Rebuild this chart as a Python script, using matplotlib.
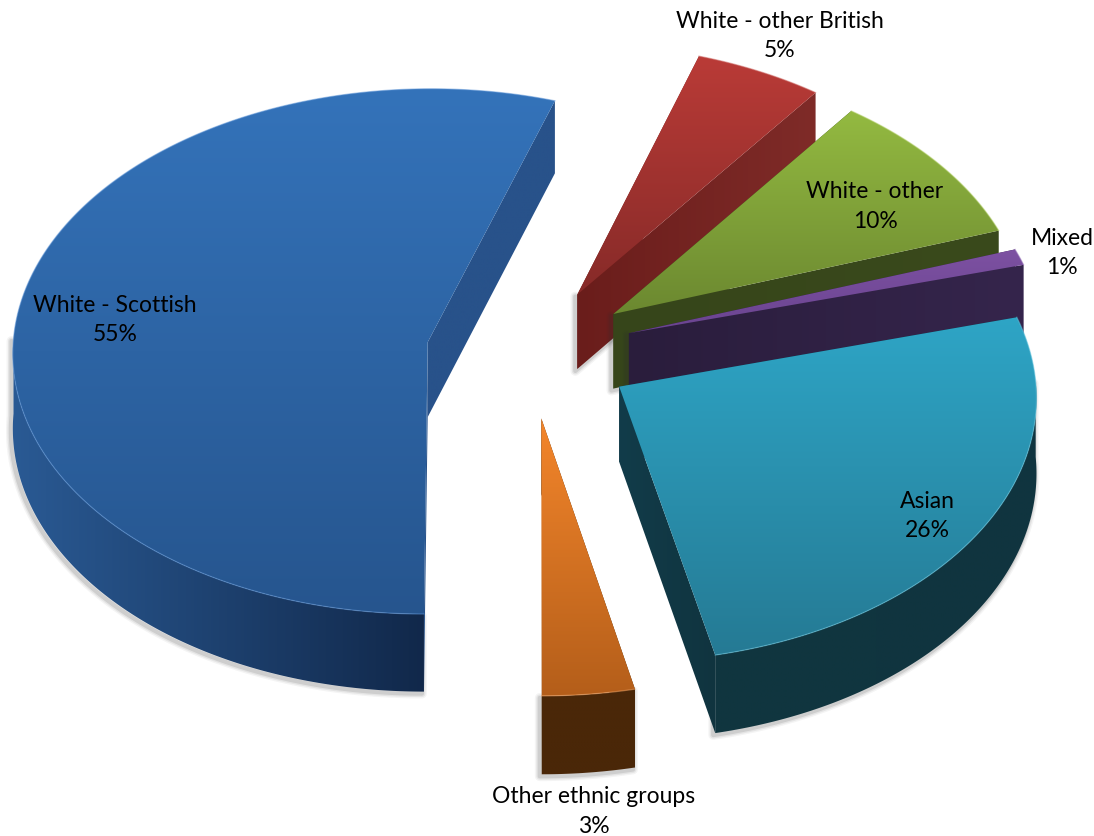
import numpy as np
import matplotlib
matplotlib.use("Agg")
import matplotlib.pyplot as plt
from matplotlib.colors import LinearSegmentedColormap
from matplotlib.patches import Polygon

labels = ["White - Scottish", "White - other British", "White - other", "Mixed", "Asian", "Other ethnic groups"]
values = [55.0, 5.2, 9.55, 1.0, 25.8, 3.45]

# styles, same order as values
top_hi = ["#3473ba", "#ba3b37", "#94ba41", "#7d51a2", "#2ea5c6", "#f4862b"]
top_lo = ["#26558e", "#862a28", "#6b8830", "#6a4490", "#257a94", "#b45e1a"]
wall_l = ["#2a5a94", "#6c1f1d", "#36451a", "#2d1f3f", "#10363f", "#4a2708"]
wall_r = ["#11284a", "#6c1f1d", "#36451a", "#2d1f3f", "#10343f", "#4a2708"]
cut_l = ["#28528a", "#6a1d1b", "#36451a", "#2a1d3c", "#123c4a", "#4a2708"]
cut_r = ["#28528a", "#7f2b28", "#3a4a1c", "#35254c", "#10343f", "#4a2708"]
rim = ["#5b93d6", "#cf6a66", "#b4d06a", "#9b78bd", "#62c4de", "#f7a868"]
label_xy = [(115, 320), (780, 36), (875, 206.5), (1062, 253), (927, 516), (594, 811.5)]

START = 180.0
EXPLODE = 0.25
CX, CY = 530, 352.5
AX, AY = 415, 263
PERSP = 0.035
DEPTH = 75


def project(u, v):
    w = 1 / (1 + PERSP * v)
    return CX + AX * u * w, CY - AY * v * w, w


def top_face(a0, a1):
    # wedge outline: apex then outer arc, angles clockwise from north
    mid = np.radians((a0 + a1) / 2)
    du, dv = EXPLODE * np.sin(mid), EXPLODE * np.cos(mid)
    ang = np.linspace(a0, a1, max(int(a1 - a0) * 2, 6))
    x, y, w = project(du + np.sin(np.radians(ang)), dv + np.cos(np.radians(ang)))
    ax_, ay_, aw = project(np.array([du]), np.array([dv]))
    return (ax_[0], ay_[0], aw[0]), ang, x, y, w


def gradient_fill(pts, c0, c1, z, vertical=False):
    # polygon painted with a linear gradient, image clipped to the polygon
    pts = np.array(pts)
    patch = Polygon(pts, closed=True, fc="none", ec="none", zorder=z)
    ax.add_patch(patch)
    cmap = LinearSegmentedColormap.from_list("g", [c0, c1])
    ramp = np.linspace(0, 1, 256)
    ramp = ramp.reshape(-1, 1) if vertical else ramp.reshape(1, -1)
    im = ax.imshow(ramp, cmap=cmap, aspect="auto", interpolation="bilinear", zorder=z,
                   extent=[pts[:, 0].min() - 1, pts[:, 0].max() + 1, pts[:, 1].max() + 1, pts[:, 1].min() - 1])
    im.set_clip_path(patch)


fig = plt.figure(figsize=(10.94, 8.36), dpi=100)
ax = fig.add_axes([0, 0, 1, 1])
ax.axis("off")
plt.rcParams["font.family"] = ["Lato", "DejaVu Sans"]

edges = START + np.cumsum([0] + values) * 3.6
for i in range(len(values)):
    apex, ang, x, y, w = top_face(edges[i], edges[i + 1])
    ax_, ay_, aw = apex
    dp = DEPTH * w
    adp = DEPTH * aw
    front = np.cos(np.radians(ang)) < 0.02

    # soft grey shadow along the lower outline only
    if front.any():
        sx = list(x[front])
        sy = list((y + dp)[front])
        if edges[i + 1] > 270:
            sx = [x[front][0]] + sx + [x[front][-1]]
            sy = [y[front][0]] + sy + [y[front][-1]]
        else:
            sx += [ax_, ax_]
            sy += [ay_ + adp, ay_]
    else:
        sx = [ax_, ax_, x[-1]]
        sy = [ay_, ay_ + adp, y[-1] + dp[-1]]
    for lw, al in [(7, 0.05), (5, 0.08), (3, 0.12)]:
        ax.plot(np.array(sx) - 2, np.array(sy) + 2, color="#303030", lw=lw, alpha=al,
                zorder=i * 10, solid_joinstyle="round", solid_capstyle="round")

    # cut faces
    for k in (0, -1):
        face = [(ax_, ay_), (x[k], y[k]), (x[k], y[k] + dp[k]), (ax_, ay_ + adp)]
        gradient_fill(face, cut_l[i], cut_r[i], i * 10 + 1)

    # outer wall, only the part turned towards the viewer
    if front.sum() > 1:
        wall = np.column_stack([np.r_[x[front], x[front][::-1]], np.r_[y[front], (y + dp)[front][::-1]]])
        gradient_fill(wall, wall_l[i], wall_r[i], i * 10 + 2)

    # top face
    top = np.column_stack([np.r_[ax_, x], np.r_[ay_, y]])
    gradient_fill(top, top_hi[i], top_lo[i], i * 10 + 4, vertical=True)
    ax.plot(x, y, color=rim[i], lw=0.9, alpha=0.5, zorder=i * 10 + 5)

ax.set_xlim(0, 1094)
ax.set_ylim(836, 0)

for name, val, (lx, ly) in zip(labels, values, label_xy):
    ax.text(lx, ly, "%s\n%d%%" % (name, round(val)), ha="center", va="center", fontsize=16.5,
            color="black", linespacing=1.52, zorder=100)

fig.savefig("out.png", dpi=100)
